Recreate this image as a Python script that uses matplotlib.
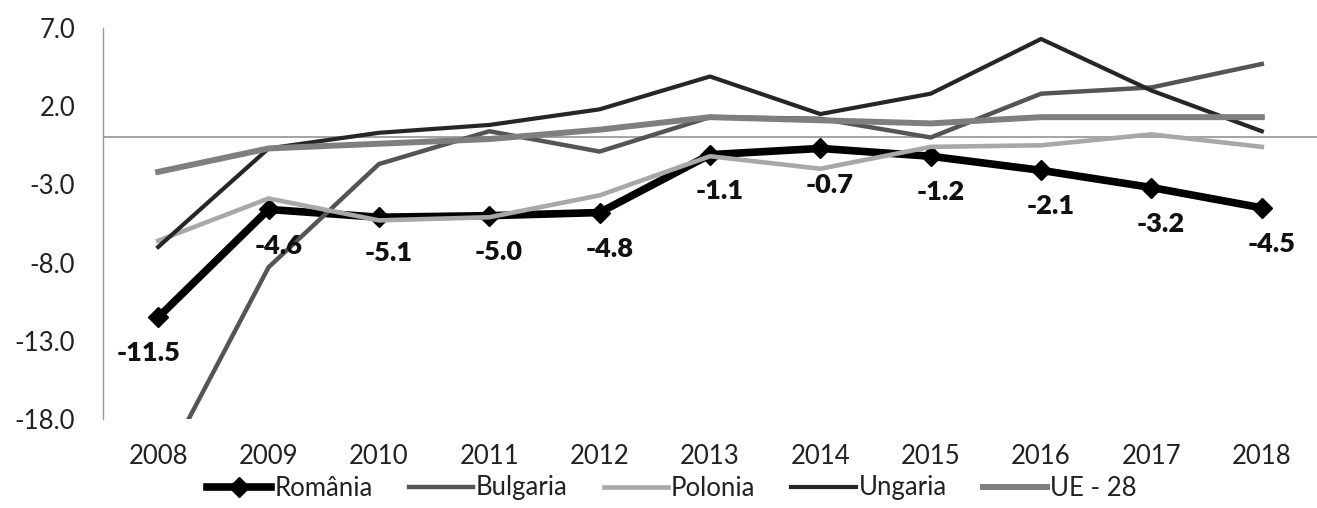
import matplotlib
matplotlib.use("Agg")
import matplotlib.pyplot as plt
from matplotlib.transforms import offset_copy

years = ["2008", "2009", "2010", "2011", "2012", "2013", "2014", "2015", "2016", "2017", "2018"]
romania = [-11.5, -4.6, -5.1, -5.0, -4.8, -1.1, -0.7, -1.2, -2.1, -3.2, -4.5]
bulgaria = [-21.7, -8.3, -1.7, 0.4, -0.9, 1.3, 1.2, 0.0, 2.8, 3.2, 4.7]
polonia = [-6.6, -3.9, -5.3, -5.1, -3.7, -1.2, -2.0, -0.6, -0.5, 0.2, -0.6]
ungaria = [-7.0, -0.7, 0.3, 0.8, 1.8, 3.9, 1.5, 2.8, 6.3, 3.0, 0.4]
ue28 = [-2.2, -0.7, -0.4, -0.1, 0.5, 1.3, 1.1, 0.9, 1.3, 1.3, 1.3]
yticks = [7.0, 2.0, -3.0, -8.0, -13.0, -18.0]

plt.rcParams['font.family'] = ['Lato', 'DejaVu Sans']
FS = 18.5

fig = plt.figure(figsize=(13.17, 5.08), dpi=100)
ax = fig.add_axes([103/1317, 1-419/508, 1-103/1317, (419-28)/508])

x = list(range(len(years)))
ax.axhline(0, color='#8a8a8a', lw=1.1, zorder=1)
ax.plot(x, romania, color='#000000', lw=5.5, marker='D', markersize=10, label='România', zorder=2)
ax.plot(x, bulgaria, color='#555555', lw=3.2, label='Bulgaria', zorder=3)
ax.plot(x, polonia, color='#a8a8a8', lw=3.3, label='Polonia', zorder=4)
ax.plot(x, ungaria, color='#262626', lw=3.0, label='Ungaria', zorder=5)
ax.plot(x, ue28, color='#7f7f7f', lw=4.3, label='UE - 28', zorder=6)

for i, v in enumerate(romania):
    tr = offset_copy(ax.transData, fig=fig, x=7 if i > 0 else -7, y=-26, units='points')
    ax.text(i, v, f"{v:.1f}", transform=tr, ha='center', va='center',
            fontsize=19.5, fontweight='heavy', color='#111111', zorder=10)

ax.set_xlim(-0.5, len(years) - 0.5)
ax.set_ylim(-18, 7)
ax.set_xticks(x)
ax.set_xticklabels(years)
ax.set_yticks(yticks)
ax.set_yticklabels([f"{t:.1f}" for t in yticks])
ax.tick_params(axis='both', length=0, labelsize=FS, colors='#222222')
ax.tick_params(axis='y', pad=20)
ax.tick_params(axis='x', pad=18)
for s in ['top', 'right', 'bottom']:
    ax.spines[s].set_visible(False)
ax.spines['left'].set_color('#9a9a9a')
ax.spines['left'].set_linewidth(1.0)

leg = fig.legend(loc='center', bbox_to_anchor=(672/1317, 1-488/508), ncol=5, frameon=False,
                 fontsize=FS, handlelength=2.5, handletextpad=0.12, columnspacing=1.4,
                 labelcolor='#222222')

fig.savefig("out.png", dpi=100)
